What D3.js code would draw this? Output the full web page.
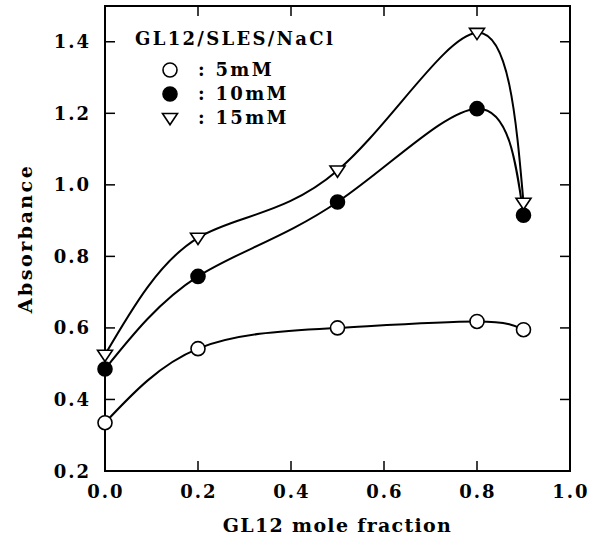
<!DOCTYPE html>
<html>
<head>
<meta charset="utf-8">
<script src="https://cdn.jsdelivr.net/npm/d3@7"></script>
<style>
  body { margin: 0; background: #fff; }
  svg text { font-family: "DejaVu Serif", serif; font-weight: bold; fill: #000; }
</style>
</head>
<body>
<div id="chart"></div>
<script>
const fractions = [0.0, 0.2, 0.5, 0.8, 0.9];
const abs5mM = [0.335, 0.542, 0.600, 0.618, 0.595];
const abs10mM = [0.485, 0.744, 0.952, 1.213, 0.915];
const abs15mM = [0.525, 0.852, 1.040, 1.425, 0.950];
const xTicks = [0.0, 0.2, 0.4, 0.6, 0.8, 1.0];
const yTicks = [0.2, 0.4, 0.6, 0.8, 1.0, 1.2, 1.4];
const legendTitle = "GL12/SLES/NaCl";
const seriesNames = ["5mM", "10mM", "15mM"];

const width = 604, height = 547;
const margin = { top: 6, right: 34, bottom: 76, left: 105 };

const svg = d3.select("#chart").append("svg").attr("width", width).attr("height", height);

const x = d3.scaleLinear().domain([0, 1]).range([margin.left, width - margin.right]);
const y = d3.scaleLinear().domain([0.2, 1.5]).range([height - margin.bottom, margin.top]);

const series = [
    { name: seriesNames[0], values: abs5mM, marker: "open" },
    { name: seriesNames[1], values: abs10mM, marker: "filled" },
    { name: seriesNames[2], values: abs15mM, marker: "tri" }
];

// frame
svg.append("rect")
    .attr("x", x(0)).attr("y", y(1.5))
    .attr("width", x(1) - x(0)).attr("height", y(0.2) - y(1.5))
    .attr("fill", "none").attr("stroke", "#000").attr("stroke-width", 2);

// inward ticks on all sides
const tl = 10;
svg.append("g").selectAll("line").data(xTicks.slice(1, -1)).join("line")
    .attr("x1", d => x(d)).attr("x2", d => x(d))
    .attr("y1", y(0.2)).attr("y2", y(0.2) - tl)
    .attr("stroke", "#000").attr("stroke-width", 1.5);
svg.append("g").selectAll("line").data(xTicks.slice(1, -1)).join("line")
    .attr("x1", d => x(d)).attr("x2", d => x(d))
    .attr("y1", y(1.5)).attr("y2", y(1.5) + tl)
    .attr("stroke", "#000").attr("stroke-width", 1.5);
svg.append("g").selectAll("line").data(yTicks.slice(1)).join("line")
    .attr("x1", x(0)).attr("x2", x(0) + tl)
    .attr("y1", d => y(d)).attr("y2", d => y(d))
    .attr("stroke", "#000").attr("stroke-width", 1.5);
svg.append("g").selectAll("line").data(yTicks.slice(1)).join("line")
    .attr("x1", x(1)).attr("x2", x(1) - tl)
    .attr("y1", d => y(d)).attr("y2", d => y(d))
    .attr("stroke", "#000").attr("stroke-width", 1.5);

// tick labels
svg.append("g").selectAll("text").data(xTicks).join("text")
    .attr("x", d => x(d) + 1).attr("y", y(0.2) + 27)
    .attr("text-anchor", "middle").attr("font-size", 18).attr("letter-spacing", 2)
    .text(d => d.toFixed(1));
svg.append("g").selectAll("text").data(yTicks).join("text")
    .attr("x", x(0) - 14).attr("y", d => y(d) + 6.5)
    .attr("text-anchor", "end").attr("font-size", 18).attr("letter-spacing", 2)
    .text(d => d.toFixed(1));

// axis titles
svg.append("text")
    .attr("x", (x(0) + x(1)) / 2).attr("y", 532)
    .attr("text-anchor", "middle").attr("font-size", 19).attr("letter-spacing", 1.3)
    .text("GL12 mole fraction");
svg.append("text")
    .attr("transform", `translate(32, ${(y(0.2) + y(1.5)) / 2}) rotate(-90)`)
    .attr("text-anchor", "middle").attr("font-size", 19).attr("letter-spacing", 2.5)
    .text("Absorbance");

// curves
const line = d3.line().x(d => x(d[0])).y(d => y(d[1])).curve(d3.curveNatural);
series.forEach(s => {
    const pts = fractions.map((f, i) => [f, s.values[i]]);
    svg.append("path").datum(pts)
        .attr("d", line)
        .attr("fill", "none").attr("stroke", "#000").attr("stroke-width", 2);
});

function drawMarker(g, type, cx, cy) {
    if (type === "tri") {
        const s = 7.5;
        g.append("path")
            .attr("d", `M${cx - s},${cy - s * 0.6} L${cx + s},${cy - s * 0.6} L${cx},${cy + s * 0.9} Z`)
            .attr("fill", "#fff").attr("stroke", "#000").attr("stroke-width", 1.6);
    } else {
        g.append("circle").attr("cx", cx).attr("cy", cy).attr("r", 7)
            .attr("fill", type === "filled" ? "#000" : "#fff")
            .attr("stroke", "#000").attr("stroke-width", 1.6);
    }
}

const markers = svg.append("g");
series.forEach(s => {
    fractions.forEach((f, i) => drawMarker(markers, s.marker, x(f), y(s.values[i])));
});

// legend
const legend = svg.append("g");
legend.append("text").attr("x", 135).attr("y", 45).attr("font-size", 18)
    .attr("letter-spacing", 2.3).text(legendTitle);
series.forEach((s, i) => {
    const ly = 70 + i * 24;
    drawMarker(legend, s.marker, 170, ly);
    legend.append("text").attr("x", 198).attr("y", ly + 6).attr("font-size", 18)
        .attr("letter-spacing", 2.3)
        .text(": " + s.name);
});
</script>
</body>
</html>
